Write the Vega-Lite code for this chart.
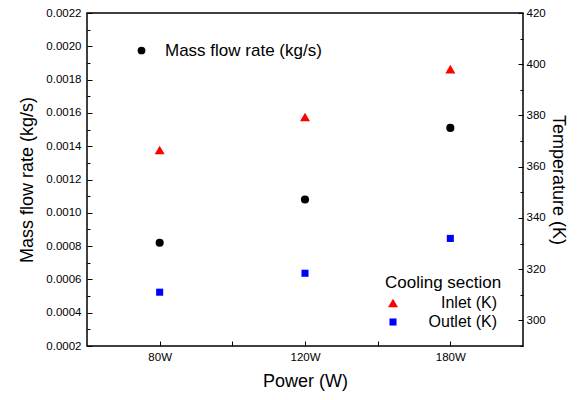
{
  "$schema": "https://vega.github.io/schema/vega-lite/v6.json",
  "width": 436,
  "height": 333,
  "autosize": "none",
  "padding": {"left": 87, "top": 13, "right": 60, "bottom": 54},
  "background": "white",
  "config": {
    "font": "Liberation Sans",
    "view": {"stroke": "black", "strokeWidth": 1.5},
    "axis": {"grid": false, "domain": false, "tickColor": "black", "labelColor": "black", "titleColor": "black", "labelFont": "Liberation Sans", "titleFont": "Liberation Sans", "labelFontSize": 11.5, "titleFontSize": 18, "titleFontWeight": "normal", "tickWidth": 1},
    "legend": {"labelFont": "Liberation Sans", "titleFont": "Liberation Sans", "labelFontSize": 16, "titleFontSize": 17, "titleFontWeight": "normal", "labelColor": "black", "titleColor": "black"}
  },
  "datasets": {
    "mass": [
      {"power": "80W", "x": 1, "mass": 0.00082, "series": "Mass flow rate (kg/s)"},
      {"power": "120W", "x": 2, "mass": 0.00108, "series": "Mass flow rate (kg/s)"},
      {"power": "180W", "x": 3, "mass": 0.00151, "series": "Mass flow rate (kg/s)"}
    ],
    "temp": [
      {"power": "80W", "x": 1, "temp": 366.5, "series": "Inlet (K)"},
      {"power": "120W", "x": 2, "temp": 379.4, "series": "Inlet (K)"},
      {"power": "180W", "x": 3, "temp": 398.1, "series": "Inlet (K)"},
      {"power": "80W", "x": 1, "temp": 311.0, "series": "Outlet (K)"},
      {"power": "120W", "x": 2, "temp": 318.4, "series": "Outlet (K)"},
      {"power": "180W", "x": 3, "temp": 332.0, "series": "Outlet (K)"}
    ]
  },
  "layer": [
    {
      "data": {"name": "mass"},
      "mark": {"type": "point", "filled": true, "opacity": 1, "size": 66},
      "encoding": {
        "x": {"field": "x", "type": "quantitative", "scale": {"domain": [0.5, 3.5], "nice": false, "zero": false},
          "axis": {"title": "Power (W)", "values": [1, 1.5, 2, 2.5, 3], "labelExpr": "datum.value == 1 ? '80W' : datum.value == 2 ? '120W' : datum.value == 3 ? '180W' : ''", "tickSize": -5, "labelPadding": 10, "titlePadding": 10}},
        "y": {"field": "mass", "type": "quantitative", "scale": {"domain": [0.0002, 0.0022], "nice": false, "zero": false},
          "axis": {"orient": "left", "title": "Mass flow rate (kg/s)", "values": [0.0002, 0.0004, 0.0006, 0.0008, 0.001, 0.0012, 0.0014, 0.0016, 0.0018, 0.002, 0.0022], "format": ".4f", "tickSize": -5, "labelPadding": 11, "titlePadding": 9}},
        "color": {"field": "series", "type": "nominal", "scale": {"range": ["black"]},
          "legend": {"title": null, "orient": "none", "legendX": 46, "legendY": 29, "symbolType": "circle", "symbolSize": 60, "symbolStrokeWidth": 0, "labelOffset": 15, "labelFontSize": 17}}
      }
    },
    {
      "data": {"name": "temp"},
      "mark": {"type": "point", "filled": true, "opacity": 1},
      "encoding": {
        "x": {"field": "x", "type": "quantitative", "scale": {"domain": [0.5, 3.5], "nice": false, "zero": false}},
        "y": {"field": "temp", "type": "quantitative", "scale": {"domain": [290, 420], "nice": false, "zero": false},
          "axis": {"orient": "right", "title": "Temperature (K)", "values": [300, 320, 340, 360, 380, 400, 420], "tickSize": -5, "labelPadding": 8, "titlePadding": 3}},
        "shape": {"field": "series", "type": "nominal", "scale": {"domain": ["Inlet (K)", "Outlet (K)"], "range": ["triangle-up", "square"]},
          "legend": {"title": "Cooling section", "orient": "none", "legendX": 298, "legendY": 262, "symbolStrokeWidth": 0, "labelAlign": "right", "labelOffset": 96, "rowPadding": 3, "titlePadding": 3}},
        "color": {"field": "series", "type": "nominal", "scale": {"domain": ["Inlet (K)", "Outlet (K)"], "range": ["#ff0000", "#0000ff"]},
          "legend": {"title": "Cooling section", "orient": "none", "legendX": 298, "legendY": 262, "symbolStrokeWidth": 0, "labelAlign": "right", "labelOffset": 96, "rowPadding": 3, "titlePadding": 3}},
        "size": {"field": "series", "type": "nominal", "scale": {"domain": ["Inlet (K)", "Outlet (K)"], "range": [100, 50]},
          "legend": {"title": "Cooling section", "orient": "none", "legendX": 298, "legendY": 262, "symbolStrokeWidth": 0, "labelAlign": "right", "labelOffset": 96, "rowPadding": 3, "titlePadding": 3}}
      }
    },
    {
      "data": {"name": "mass"},
      "mark": {"type": "point", "opacity": 0},
      "encoding": {
        "x": {"field": "x", "type": "quantitative", "scale": {"domain": [0.5, 3.5], "nice": false, "zero": false}},
        "y": {"field": "mass", "type": "quantitative", "scale": {"domain": [0.0002, 0.0022], "nice": false, "zero": false},
          "axis": {"orient": "left", "title": null, "labels": false, "values": [0.0003, 0.0005, 0.0007, 0.0009, 0.0011, 0.0013, 0.0015, 0.0017, 0.0019, 0.0021], "tickSize": -3}}
      }
    },
    {
      "data": {"name": "temp"},
      "mark": {"type": "point", "opacity": 0},
      "encoding": {
        "x": {"field": "x", "type": "quantitative", "scale": {"domain": [0.5, 3.5], "nice": false, "zero": false}},
        "y": {"field": "temp", "type": "quantitative", "scale": {"domain": [290, 420], "nice": false, "zero": false},
          "axis": {"orient": "right", "title": null, "labels": false, "values": [290, 310, 330, 350, 370, 390, 410], "tickSize": -3}}
      }
    }
  ],
  "resolve": {"scale": {"y": "independent", "shape": "independent", "color": "independent", "size": "independent"}, "axis": {"y": "independent"}, "legend": {"shape": "independent", "color": "independent", "size": "independent"}}
}
